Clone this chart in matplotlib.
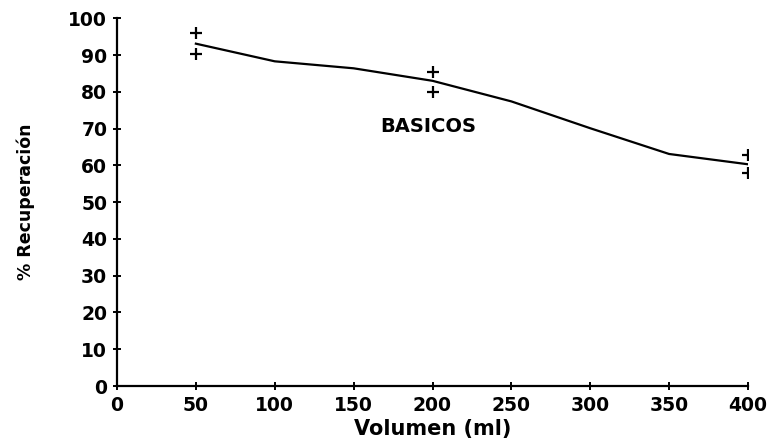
import matplotlib
matplotlib.use("Agg")
import matplotlib.pyplot as plt

# Data
curve_x = [50, 100, 150, 200, 250, 300, 350, 400]
curve_y = [93.1, 88.3, 86.4, 83.0, 77.4, 70.1, 63.1, 60.3]
pts_x = [50, 50, 200, 200, 400, 400]
pts_y = [96.1, 90.2, 85.3, 80.0, 62.9, 58.0]
xticks = [0, 50, 100, 150, 200, 250, 300, 350, 400]
yticks = [0, 10, 20, 30, 40, 50, 60, 70, 80, 90, 100]

plt.rcParams['font.family'] = ['DejaVu Sans']
fig = plt.figure(figsize=(7.7, 4.38), dpi=100)
ax = fig.add_axes([117/770, 1 - 386/438, (748-117)/770, (386-18.3)/438])

ax.plot(curve_x, curve_y, color='black', linewidth=1.6)
ax.plot(pts_x, pts_y, linestyle='none', marker='+', color='black',
        markersize=8, markeredgewidth=1.6)

ax.set_xlim(0, 400)
ax.set_ylim(0, 100)
ax.set_xticks(xticks)
ax.set_yticks(yticks)
ax.spines['top'].set_visible(False)
ax.spines['right'].set_visible(False)
for s in ('left', 'bottom'):
    ax.spines[s].set_linewidth(1.6)
ax.tick_params(direction='inout', length=6, width=1.4, labelsize=13.5, pad=4)
for lab in ax.get_xticklabels() + ax.get_yticklabels():
    lab.set_fontweight('bold')

ax.text(197, 70.7, 'BASICOS', ha='center', va='center', fontsize=14,
        fontweight='bold')
ax.set_xlabel('Volumen (ml)', fontsize=15, fontweight='bold', labelpad=3)
ax.set_ylabel('% Recuperación', fontsize=12.5, fontweight='bold', labelpad=24)

fig.savefig('out.png', dpi=100)
